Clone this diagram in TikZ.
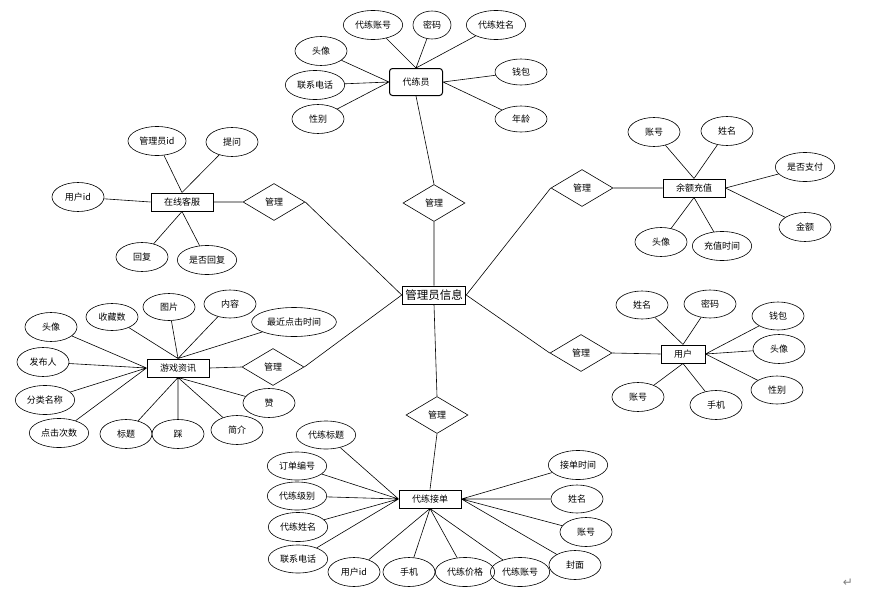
\documentclass[tikz,border=0pt]{standalone}
\usepackage{fontspec}
\newfontfamily\cjk{Noto Sans CJK SC}
\newfontfamily\symfont{DejaVu Sans}
\usetikzlibrary{shapes.geometric}

\begin{document}
\begin{tikzpicture}[
        x=1pt, y=-1pt,
        attribute/.style = {
            draw, ellipse, line width=0.6pt, inner xsep=3pt, inner ysep=1pt,
            minimum width=52pt, minimum height=29pt,
            font=\cjk\fontsize{9}{10}\selectfont
        },
        entity/.style = {
            draw, line width=1pt, inner xsep=13pt, inner ysep=1pt,
            minimum height=18pt, font=\cjk\fontsize{9}{10}\selectfont
        },
        relation/.style = {
            draw, diamond, line width=0.6pt, inner sep=0pt,
            minimum width=62pt, minimum height=37pt,
            font=\cjk\fontsize{9}{10}\selectfont
        },
        link/.style = {
            line width=0.6pt
        },
        ]
        \useasboundingbox (0,0) rectangle (878,597);

        \node [entity, inner xsep=3pt, font=\cjk\fontsize{11.5}{13}\selectfont] (admin) at (434,295) {管理员信息};

        \node [entity, rounded corners=3pt, minimum height=27pt] (booster) at (416,82) {代练员};
        \node [relation] (m-booster) at (434,203) {管理};
        \node [attribute] (booster-acct) at (373,25) {代练账号};
        \node [attribute, minimum width=38pt, minimum height=28pt] (booster-pwd) at (432,25) {密码};
        \node [attribute] (booster-name) at (496,25) {代练姓名};
        \node [attribute] (booster-avatar) at (321,51) {头像};
        \node [attribute] (booster-tel) at (315,85) {联系电话};
        \node [attribute] (booster-sex) at (318,119) {性别};
        \node [attribute, minimum height=26pt] (booster-wallet) at (521,72) {钱包};
        \node [attribute, minimum height=26pt] (booster-age) at (521,119) {年龄};

        \node [entity] (recharge) at (694,188) {余额充值};
        \node [relation] (m-recharge) at (582,188) {管理};
        \node [attribute] (recharge-acct) at (654,132) {账号};
        \node [attribute] (recharge-name) at (727,131) {姓名};
        \node [attribute] (recharge-paid) at (805,167) {是否支付};
        \node [attribute] (recharge-sum) at (805,227) {金额};
        \node [attribute] (recharge-avatar) at (661,242) {头像};
        \node [attribute] (recharge-time) at (722,246) {充值时间};

        \node [entity] (service) at (182,202) {在线客服};
        \node [relation] (m-service) at (274,202) {管理};
        \node [attribute] (service-admin) at (157,141) {管理员id};
        \node [attribute] (service-ask) at (232,142) {提问};
        \node [attribute] (service-user) at (78,197) {用户id};
        \node [attribute] (service-reply) at (142,257) {回复};
        \node [attribute] (service-replied) at (207,260) {是否回复};

        \node [entity] (news) at (178,368) {游戏资讯};
        \node [relation] (m-news) at (273,367) {管理};
        \node [attribute] (news-avatar) at (51,327) {头像};
        \node [attribute, minimum height=27pt] (news-fav) at (112,317) {收藏数};
        \node [attribute, minimum height=27pt] (news-pic) at (169,307) {图片};
        \node [attribute, minimum height=28pt] (news-text) at (230,304) {内容};
        \node [attribute] (news-last) at (294,322) {最近点击时间};
        \node [attribute] (news-author) at (43,362) {发布人};
        \node [attribute] (news-type) at (45,400) {分类名称};
        \node [attribute] (news-clicks) at (59,433) {点击次数};
        \node [attribute] (news-title) at (126,434) {标题};
        \node [attribute] (news-down) at (178,434) {踩};
        \node [attribute] (news-intro) at (237,430) {简介};
        \node [attribute] (news-up) at (269,403) {赞};

        \node [entity] (user) at (683,354) {用户};
        \node [relation] (m-user) at (581,353) {管理};
        \node [attribute, minimum height=28pt] (user-name) at (642,305) {姓名};
        \node [attribute, minimum height=28pt] (user-pwd) at (710,304) {密码};
        \node [attribute, minimum height=28pt] (user-wallet) at (778,316) {钱包};
        \node [attribute] (user-avatar) at (779,349) {头像};
        \node [attribute, minimum height=28pt] (user-sex) at (777,390) {性别};
        \node [attribute] (user-acct) at (638,397) {账号};
        \node [attribute] (user-phone) at (716,405) {手机};

        \node [entity] (order) at (430,499) {代练接单};
        \node [relation] (m-order) at (437,415) {管理};
        \node [attribute, minimum height=28pt] (order-title) at (326,435) {代练标题};
        \node [attribute, minimum height=28pt] (order-no) at (297,466) {订单编号};
        \node [attribute, minimum height=28pt] (order-level) at (297,496) {代练级别};
        \node [attribute] (order-booster) at (298,527) {代练姓名};
        \node [attribute, minimum height=28pt] (order-tel) at (298,559) {联系电话};
        \node [attribute] (order-user) at (354,572) {用户id};
        \node [attribute] (order-phone) at (409,572) {手机};
        \node [attribute] (order-price) at (465,572) {代练价格};
        \node [attribute] (order-acct2) at (520,572) {代练账号};
        \node [attribute] (order-cover) at (575,565) {封面};
        \node [attribute] (order-time) at (578,465) {接单时间};
        \node [attribute, minimum height=28pt] (order-name) at (577,499) {姓名};
        \node [attribute] (order-acct) at (586,532) {账号};

        \node [text=gray, font=\symfont\fontsize{12}{14}\selectfont] (mark) at (848,583) {↵};

        \draw [link] (booster.north) -- (booster-acct) (booster.north) -- (booster-pwd)
            (booster.north) -- (booster-name) (booster.west) -- (booster-avatar)
            (booster.west) -- (booster-tel) (booster.west) -- (booster-sex)
            (booster.east) -- (booster-wallet) (booster.east) -- (booster-age)
            (booster.south) -- (m-booster.north) (m-booster.south) -- (admin.north);
        \draw [link] (recharge.north) -- (recharge-acct) (recharge.north) -- (recharge-name)
            (recharge.east) -- (recharge-paid) (recharge.east) -- (recharge-sum)
            (recharge.south) -- (recharge-avatar) (recharge.south) -- (recharge-time)
            (recharge.west) -- (m-recharge.east) (m-recharge.west) -- (admin.east);
        \draw [link] (service.north) -- (service-admin) (service.north) -- (service-ask)
            (service.west) -- (service-user) (service.south) -- (service-reply)
            (service.south) -- (service-replied)
            (service.east) -- (m-service.west) (m-service.east) -- (admin.west);
        \draw [link] (news.west) -- (news-avatar) (news.west) -- (news-author)
            (news.west) -- (news-type) (news.west) -- (news-clicks)
            (news.north) -- (news-fav) (news.north) -- (news-pic)
            (news.north) -- (news-text) (news.north) -- (news-last)
            (news.south) -- (news-title) (news.south) -- (news-down)
            (news.south) -- (news-intro) (news.south) -- (news-up)
            (news.east) -- (m-news.west) (m-news.east) -- (admin.west);
        \draw [link] (user.north) -- (user-name) (user.north) -- (user-pwd)
            (user.east) -- (user-wallet) (user.east) -- (user-avatar)
            (user.east) -- (user-sex) (user.south) -- (user-acct)
            (user.south) -- (user-phone)
            (user.west) -- (m-user.east) (m-user.west) -- (admin.east);
        \draw [link] (order.west) -- (order-title) (order.west) -- (order-no)
            (order.west) -- (order-level) (order.west) -- (order-booster)
            (order.west) -- (order-tel) (order.south) -- (order-user)
            (order.south) -- (order-phone) (order.south) -- (order-price)
            (order.south) -- (order-acct2) (order.east) -- (order-cover)
            (order.east) -- (order-time) (order.east) -- (order-name)
            (order.east) -- (order-acct)
            (order.north) -- (m-order.south) (m-order.north) -- (admin.south);
    \end{tikzpicture}
\end{document}
